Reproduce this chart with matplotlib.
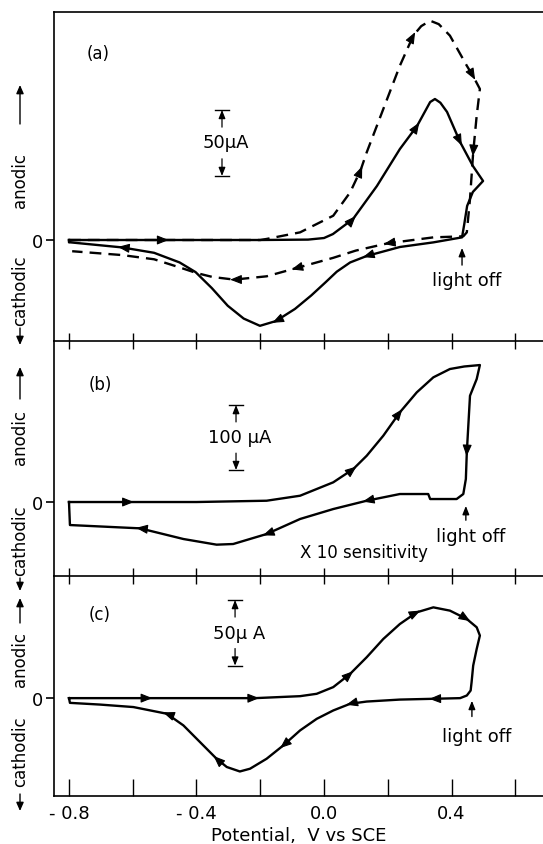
import numpy as np
import matplotlib.pyplot as plt

plt.rcParams["font.family"] = ["DejaVu Sans"]

# ---- data (potential in V vs SCE, current in uA) ----
# panel (a), solid curve
a_solid_v = [-0.800, -0.500, -0.200, -0.050, 0.000, 0.028, 0.091, 0.166, 0.238, 0.292,
             0.333, 0.348, 0.365, 0.386, 0.427, 0.467, 0.499, 0.467, 0.449, 0.440,
             0.433, 0.343, 0.238, 0.134, 0.082, 0.040, 0.005, -0.040, -0.091, -0.151,
             -0.201, -0.252, -0.302, -0.352, -0.403, -0.453, -0.533, -0.634, -0.795, -0.800,
             -0.800]
a_solid_i = [0, 0, 0, 0.3, 1.5, 4.5, 15.9, 40.9, 68.9, 86.4,
             104.5, 106.8, 104.0, 97.0, 74.2, 56.1, 44.7, 36.4, 25.8, 12.0,
             2.0, -1.8, -5.3, -12.1, -17.0, -24.0, -32.0, -42.0, -52.2, -61.4,
             -65.0, -59.5, -49.8, -36.4, -24.3, -17.0, -9.7, -5.6, -1.8, -1.8,
             0]
a_solid_arrows = [1, 6, 9, 14, 23, 29, 37]

# panel (a), dashed curve
a_dash_v = [-0.800, -0.500, -0.200, -0.180, -0.075, 0.029, 0.082, 0.115, 0.134, 0.186,
            0.238, 0.280, 0.305, 0.333, 0.360, 0.395, 0.448, 0.468, 0.489, 0.479,
            0.468, 0.458, 0.448, 0.437, 0.343, 0.200, 0.100, 0.029, -0.090, -0.180,
            -0.282, -0.350, -0.400, -0.450, -0.533, -0.634, -0.790]
a_dash_i = [0, 0, 0, 0.8, 5.8, 18.4, 36.1, 53.0, 66.4, 99.2,
            132.0, 154.8, 162.0, 166.1, 163.5, 154.8, 132.0, 124.0, 114.4, 94.2,
            66.4, 31.1, 5.8, 2.8, 2.0, -2.5, -8.0, -13.5, -21.5, -27.5,
            -30.0, -28.0, -25.0, -21.0, -14.6, -11.4, -8.5]
a_dash_arrows = [7, 11, 17, 20, 25, 28, 30]

# panel (b)
b_v = [-0.800, -0.609, -0.400, -0.180, -0.075, 0.029, 0.092, 0.134, 0.186, 0.238,
       0.291, 0.343, 0.395, 0.440, 0.489, 0.479, 0.458, 0.448, 0.445, 0.437,
       0.416, 0.333, 0.327, 0.238, 0.134, 0.029, -0.075, -0.180, -0.285, -0.337,
       -0.441, -0.577, -0.797, -0.800]
b_i = [0, 0, 0, 2.0, 9.7, 30.3, 50.8, 71.2, 102.0, 138.0,
       168.7, 191.8, 204.6, 208.5, 210.7, 189.2, 163.5, 76.4, 35.4, 12.3,
       4.6, 4.6, 12.3, 12.3, 2.0, -10.8, -26.1, -49.2, -64.6, -65.6,
       -56.9, -40.5, -35.4, 0]
b_arrows = [1, 6, 9, 17, 24, 27, 31]

# panel (c)
c_v = [-0.800, -0.551, -0.216, -0.075, -0.023, 0.029, 0.082, 0.134, 0.186, 0.238,
       0.291, 0.343, 0.395, 0.448, 0.479, 0.489, 0.479, 0.468, 0.463, 0.460,
       0.448, 0.427, 0.343, 0.238, 0.134, 0.082, 0.029, -0.023, -0.075, -0.128,
       -0.180, -0.232, -0.264, -0.305, -0.337, -0.389, -0.441, -0.493, -0.598, -0.703,
       -0.797, -0.800]
c_i = [0, 0, 0, 1.5, 3.3, 8.4, 18.5, 31.2, 45.1, 56.5,
       65.4, 69.2, 66.7, 60.3, 54.0, 47.7, 37.5, 24.8, 12.2, 5.8,
       2.0, 0, -0.5, -1.1, -2.6, -4.3, -9.4, -15.8, -24.6, -36.1,
       -46.2, -53.8, -55.9, -52.5, -46.2, -33.5, -20.8, -11.9, -6.8, -4.9,
       -3.6, 0]
c_arrows = [1, 2, 6, 10, 13, 22, 25, 29, 34, 37]

x_ticks = [-0.8, -0.6, -0.4, -0.2, 0.0, 0.2, 0.4, 0.6]
x_labels = ["- 0.8", "", "- 0.4", "", "0.0", "", "0.4", ""]

W, H = 543, 845
fig = plt.figure(figsize=(W / 100, H / 100), dpi=100)


def px_axes(top, bottom):
    left = 54
    return fig.add_axes([left / W, (H - bottom) / H, 1 - left / W, (bottom - top) / H])


ax_a = px_axes(13, 342)
ax_b = px_axes(342, 577)
ax_c = px_axes(577, 797)

ax_a.set_ylim(-76.5, 172.7)
ax_b.set_ylim(-113.8, 247.7)
ax_c.set_ylim(-74.6, 93.1)

for ax in (ax_a, ax_b, ax_c):
    ax.set_xlim(-0.847, 0.687)
    ax.set_facecolor("none")
    for s in ax.spines.values():
        s.set_linewidth(1.2)
    ax.spines["right"].set_visible(False)
    ax.set_xticks(x_ticks)
    ax.set_xticks(x_ticks, minor=True)
    ax.set_yticks([0])
    ax.set_yticklabels(["0"], fontsize=13)
    ax.set_yticks([0], minor=True)
    ax.tick_params(axis="y", which="major", left=True, right=False, direction="out",
                   length=6, width=1.2, pad=2)
    ax.tick_params(axis="y", which="minor", left=False, right=True, direction="in",
                   length=6, width=1.2)

# top panel: ticks in on top, crossing at divider
ax_a.tick_params(axis="x", which="major", bottom=True, top=False, direction="inout",
                 length=12, width=1.0, labelbottom=False)
ax_a.tick_params(axis="x", which="minor", bottom=False, top=True, direction="in",
                 length=10, width=1.0)
ax_b.spines["top"].set_visible(False)
ax_b.tick_params(axis="x", which="major", bottom=True, top=False, direction="inout",
                 length=12, width=1.0, labelbottom=False)
ax_b.tick_params(axis="x", which="minor", bottom=False, top=False)
ax_c.spines["top"].set_visible(False)
ax_c.tick_params(axis="x", which="major", bottom=True, top=False, direction="in",
                 length=12, width=1.0, labelsize=13, pad=6)
ax_c.tick_params(axis="x", which="minor", bottom=False, top=False)
ax_c.set_xticklabels(x_labels)
ax_c.set_xlabel("Potential,  V vs SCE", fontsize=13, labelpad=3)

lw = 1.7
ax_a.plot(a_solid_v, a_solid_i, color="k", lw=lw, solid_joinstyle="round")
ax_a.plot(a_dash_v, a_dash_i, color="k", lw=lw, linestyle=(0, (5, 3)))
ax_b.plot(b_v, b_i, color="k", lw=lw, solid_joinstyle="round")
ax_c.plot(c_v, c_i, color="k", lw=lw, solid_joinstyle="round")

arrow_style = "-|>,head_length=0.7,head_width=0.28"


def add_arrows(ax, v, cur, idx):
    pts = ax.transData.transform(np.column_stack([v, cur]))
    inv = ax.transData.inverted()
    for k in idx:
        d = pts[k + 1] - pts[k - 1]
        u = d / np.hypot(*d)
        head = inv.transform(pts[k] + u * 4)
        tail = inv.transform(pts[k] - u * 4)
        ax.annotate("", xy=head, xytext=tail,
                    arrowprops=dict(arrowstyle=arrow_style, color="k", lw=0.8,
                                    mutation_scale=10, shrinkA=0, shrinkB=0))


add_arrows(ax_a, a_solid_v, a_solid_i, a_solid_arrows)
add_arrows(ax_a, a_dash_v, a_dash_i, a_dash_arrows)
add_arrows(ax_b, b_v, b_i, b_arrows)
add_arrows(ax_c, c_v, c_i, c_arrows)


def scale_bar(ax, xc, top, size, label, text_y):
    bot = top - size
    half = 0.022
    ax.plot([xc - half, xc + half], [top, top], color="k", lw=1.0)
    ax.plot([xc - half, xc + half], [bot, bot], color="k", lw=1.0)
    frac = size * 0.26
    for tip, tail in ((top, top - frac), (bot, bot + frac)):
        ax.annotate("", xy=(xc, tip), xytext=(xc, tail),
                    arrowprops=dict(arrowstyle="-|>,head_length=0.5,head_width=0.2",
                                    color="k", lw=0.9, mutation_scale=10,
                                    shrinkA=0, shrinkB=0))
    ax.text(xc + 0.012, text_y, label, fontsize=13, ha="center", va="center")


scale_bar(ax_a, -0.32, 98.5, 50, "50μA", 74)
scale_bar(ax_b, -0.276, 149.2, 100, "100 μA", 100)
scale_bar(ax_c, -0.279, 74.8, 50, "50μ A", 49.5)


def light_off(ax, x, tip, tail, ty):
    ax.annotate("", xy=(x, tip), xytext=(x, tail),
                arrowprops=dict(arrowstyle="-|>,head_length=0.5,head_width=0.2",
                                color="k", lw=1.0, mutation_scale=10,
                                shrinkA=0, shrinkB=0))
    ax.text(x + 0.015, ty, "light off", fontsize=13, ha="center", va="center")


light_off(ax_a, 0.433, -6.0, -19.0, -30.0)
light_off(ax_b, 0.445, -6.0, -28.0, -52.0)
light_off(ax_c, 0.464, -2.0, -14.0, -28.5)

ax_b.text(0.125, -77, "X 10 sensitivity", fontsize=12, ha="center", va="center")

ax_a.text(-0.709, 142, "(a)", fontsize=12, ha="center", va="center")
ax_b.text(-0.703, 181, "(b)", fontsize=12, ha="center", va="center")
ax_c.text(-0.703, 64, "(c)", fontsize=12, ha="center", va="center")


# side labels (figure pixel positions, y measured from top)
def side_text(s, yc):
    fig.text(20 / W, (H - yc) / H, s, rotation=90, fontsize=12,
             ha="center", va="center")


def side_arrow(y_tail, y_head):
    fig.add_artist(plt.Annotation(
        "", xy=(20, H - y_head), xytext=(20, H - y_tail),
        xycoords="figure pixels", textcoords="figure pixels",
        arrowprops=dict(arrowstyle="-|>,head_length=0.5,head_width=0.22",
                        color="k", lw=1.0, mutation_scale=10,
                        shrinkA=0, shrinkB=0)))


side_text("anodic", 180)
side_arrow(125, 86)
side_text("cathodic", 291)
side_arrow(329, 346)

side_text("anodic", 438)
side_arrow(400, 368)
side_text("cathodic", 541)
side_arrow(579, 592)

side_text("anodic", 660)
side_arrow(624, 599)
side_text("cathodic", 752)
side_arrow(795, 812)

fig.savefig("out.png", dpi=100)
